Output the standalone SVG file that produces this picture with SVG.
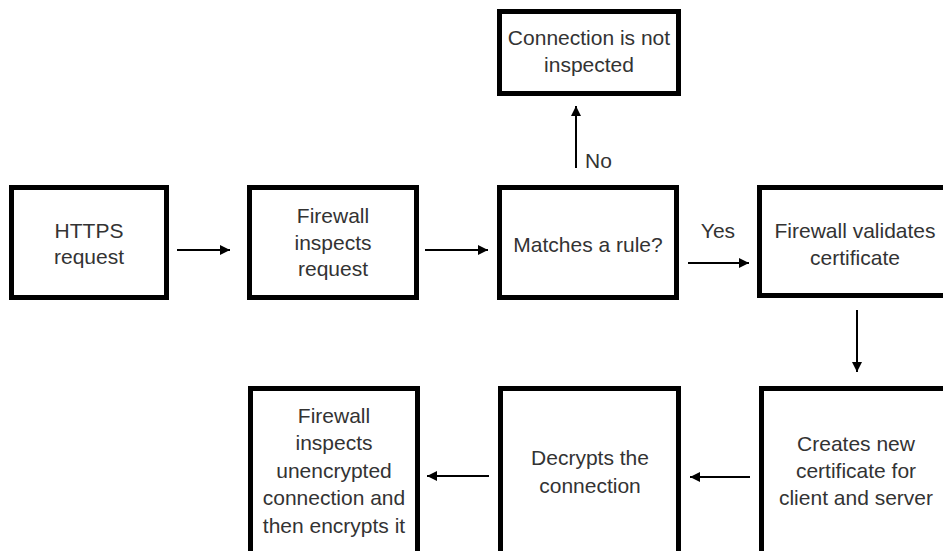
<svg xmlns="http://www.w3.org/2000/svg" width="943" height="551" viewBox="0 0 943 551">
<style>
.box{fill:#fff;stroke:#000;stroke-width:5}
.t{font-family:"Liberation Sans",Arial,sans-serif;font-size:21px;fill:#333;text-anchor:middle}
.c{stroke:#000;stroke-width:2;fill:none;marker-end:url(#ah)}
</style>
<defs>
<marker id="ah" viewBox="0 0 10 10" refX="10" refY="5" markerWidth="5" markerHeight="5" orient="auto" markerUnits="strokeWidth">
<path d="M0,0 L10,5 L0,10 z" fill="#000"/>
</marker>
</defs>
<rect width="943" height="551" fill="#fff"/>
<g id="connectors">
<line class="c" x1="177" y1="250" x2="230" y2="250"/>
<line class="c" x1="425" y1="250" x2="488" y2="250"/>
<line class="c" x1="688" y1="263" x2="749" y2="263"/>
<line class="c" x1="576" y1="168" x2="576" y2="106"/>
<line class="c" x1="857" y1="310" x2="857" y2="372"/>
<line class="c" x1="750" y1="477" x2="690" y2="477"/>
<line class="c" x1="489" y1="476" x2="427" y2="476"/>
<text class="t" x="718" y="238">Yes</text>
<text class="t" x="585" y="168" style="text-anchor:start">No</text>
</g>
<g id="not-inspected">
<rect class="box" x="499.5" y="11.5" width="179" height="82"/>
<text class="t" x="589" y="45">Connection is not</text>
<text class="t" x="589" y="72">inspected</text>
</g>
<g id="https-request">
<rect class="box" x="11.5" y="187.5" width="155" height="110"/>
<text class="t" x="89" y="238">HTTPS</text>
<text class="t" x="89" y="264">request</text>
</g>
<g id="fw-inspects">
<rect class="box" x="249.5" y="187.5" width="167" height="110"/>
<text class="t" x="333" y="223">Firewall</text>
<text class="t" x="333" y="250">inspects</text>
<text class="t" x="333" y="276">request</text>
</g>
<g id="matches">
<rect class="box" x="499.5" y="187.5" width="177" height="110"/>
<text class="t" x="588" y="252">Matches a rule?</text>
</g>
<g id="fw-validates">
<rect class="box" x="759.5" y="187.5" width="200" height="108"/>
<text class="t" x="855" y="238">Firewall validates</text>
<text class="t" x="855" y="265">certificate</text>
</g>
<g id="creates-cert">
<rect class="box" x="761.5" y="388.5" width="200" height="200"/>
<text class="t" x="856" y="451">Creates new</text>
<text class="t" x="856" y="478">certificate for</text>
<text class="t" x="856" y="505">client and server</text>
</g>
<g id="decrypts">
<rect class="box" x="500.5" y="388.5" width="178" height="200"/>
<text class="t" x="590" y="465">Decrypts the</text>
<text class="t" x="590" y="493">connection</text>
</g>
<g id="fw-inspects-encrypts">
<rect class="box" x="250.5" y="388.5" width="167" height="200"/>
<text class="t" x="334" y="423">Firewall</text>
<text class="t" x="334" y="450">inspects</text>
<text class="t" x="334" y="478">unencrypted</text>
<text class="t" x="334" y="505">connection and</text>
<text class="t" x="334" y="533">then encrypts it</text>
</g>
</svg>
